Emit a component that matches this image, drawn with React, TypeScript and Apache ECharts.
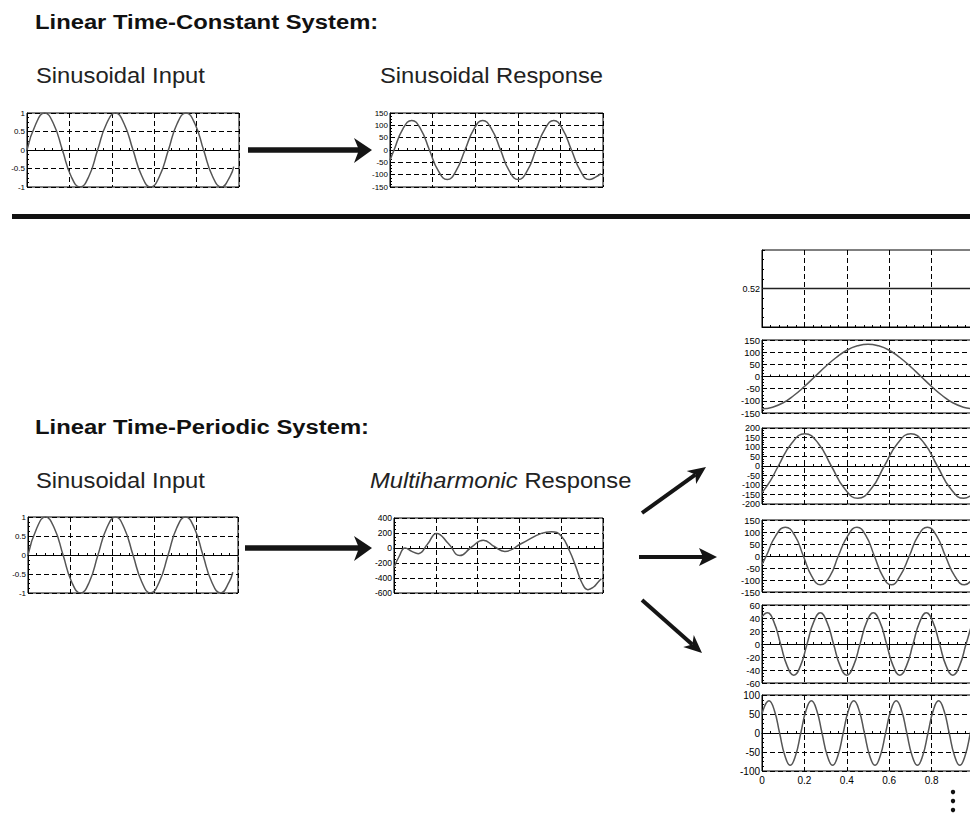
import React, { useEffect, useRef } from 'react';
import * as echarts from 'echarts';

const FONT = '"Liberation Sans", Arial, Helvetica, sans-serif';

// ---------- data ----------
const inputCurve: [number, number][] = [
  [0, 0], [0.042, 0.71], [0.083, 1], [0.125, 0.71], [0.167, 0], [0.208, -0.71], [0.25, -1], [0.292, -0.71],
  [0.333, 0], [0.375, 0.71], [0.417, 1], [0.458, 0.71], [0.5, 0], [0.542, -0.71], [0.583, -1], [0.625, -0.71],
  [0.667, 0], [0.708, 0.71], [0.75, 1], [0.792, 0.71], [0.833, 0], [0.875, -0.71], [0.917, -1], [0.958, -0.71],
  [0.975, -0.45],
];

const responseCurve: [number, number][] = [
  [0, -41], [0.019, 0], [0.06, 85], [0.102, 120], [0.144, 85], [0.185, 0], [0.227, -85], [0.269, -120],
  [0.31, -85], [0.352, 0], [0.394, 85], [0.435, 120], [0.477, 85], [0.519, 0], [0.56, -85], [0.602, -120],
  [0.644, -85], [0.685, 0], [0.727, 85], [0.769, 120], [0.81, 85], [0.852, 0], [0.894, -85], [0.935, -120],
  [0.965, -110], [0.99, -96],
];

const multiCurve: [number, number][] = [
  [0, -260], [0.025, -110], [0.053, 0], [0.085, -45], [0.116, -75], [0.16, 50], [0.204, 195], [0.26, 60],
  [0.315, -100], [0.37, 10], [0.427, 105], [0.48, 20], [0.53, -45], [0.61, 60], [0.705, 195], [0.753, 218],
  [0.8, 160], [0.84, -40], [0.87, -250], [0.9, -470], [0.928, -555], [0.955, -520], [0.975, -460], [0.992, -410],
];

const dcLevel: [number, number][] = [[0, 0.52], [1, 0.52]];

const harmonic1: [number, number][] = [
  [0, -133], [0.05, -126], [0.1, -108], [0.15, -78], [0.2, -41], [0.25, 0], [0.3, 41], [0.35, 78], [0.4, 108],
  [0.45, 126], [0.5, 133], [0.55, 126], [0.6, 108], [0.65, 78], [0.7, 41], [0.75, 0], [0.8, -41], [0.85, -78],
  [0.9, -108], [0.95, -126], [1, -133],
];

const harmonic2: [number, number][] = [
  [0, -140], [0.04, -77], [0.077, 0], [0.14, 120], [0.202, 170], [0.265, 120], [0.327, 0], [0.39, -120],
  [0.452, -170], [0.515, -120], [0.577, 0], [0.64, 120], [0.702, 170], [0.765, 120], [0.827, 0], [0.89, -120],
  [0.952, -170], [1, -140],
];

const harmonic3: [number, number][] = [
  [0, -35], [0.02, 0], [0.065, 85], [0.11, 120], [0.155, 85], [0.195, 0], [0.235, -85], [0.276, -120],
  [0.32, -85], [0.36, 0], [0.405, 85], [0.448, 120], [0.49, 85], [0.53, 0], [0.57, -85], [0.61, -120],
  [0.65, -85], [0.695, 0], [0.737, 85], [0.78, 120], [0.823, 85], [0.865, 0], [0.91, -85], [0.955, -120],
  [1, -85],
];

const harmonic4: [number, number][] = [
  [0, 42], [0.025, 48], [0.056, 34], [0.0875, 0], [0.119, -34], [0.15, -48], [0.181, -34], [0.2125, 0],
  [0.244, 34], [0.275, 48], [0.306, 34], [0.3375, 0], [0.369, -34], [0.4, -48], [0.431, -34], [0.4625, 0],
  [0.494, 34], [0.525, 48], [0.556, 34], [0.5875, 0], [0.619, -34], [0.65, -48], [0.681, -34], [0.7125, 0],
  [0.744, 34], [0.775, 48], [0.806, 34], [0.8375, 0], [0.869, -34], [0.9, -48], [0.931, -34], [0.9625, 0],
  [0.994, 34], [1, 38],
];

const harmonic5: [number, number][] = [
  [0, 50], [0.033, 85], [0.058, 60], [0.083, 0], [0.108, -60], [0.133, -85], [0.158, -60], [0.183, 0],
  [0.208, 60], [0.233, 85], [0.258, 60], [0.283, 0], [0.308, -60], [0.333, -85], [0.358, -60], [0.383, 0],
  [0.408, 60], [0.433, 85], [0.458, 60], [0.483, 0], [0.508, -60], [0.533, -85], [0.558, -60], [0.583, 0],
  [0.608, 60], [0.633, 85], [0.658, 60], [0.683, 0], [0.708, -60], [0.733, -85], [0.758, -60], [0.783, 0],
  [0.808, 60], [0.833, 85], [0.858, 60], [0.883, 0], [0.908, -60], [0.933, -85], [0.958, -60], [0.983, 0],
  [1, 43],
];

const dcTickLabels = ['0.52'];
const timeTickLabels = ['0', '0.2', '0.4', '0.6', '0.8'];

// ---------- titles ----------
const title1 = 'Linear Time-Constant System:';
const title2 = 'Linear Time-Periodic System:';
const inputLabel = 'Sinusoidal Input';
const responseLabel = 'Sinusoidal Response';
const multiLabelItalic = 'Multiharmonic';
const multiLabelRest = ' Response';

// ---------- layout ----------
type Panel = {
  box: { left: number; top: number; width: number; height: number };
  yMin: number; yMax: number; yStep: number;
  data: [number, number][];
  hSplit: boolean; xLabels: boolean; fontSize: number;
  onlyLabels?: string[];
};

const panels: Panel[] = [
  { box: { left: 27, top: 113, width: 212, height: 74 }, yMin: -1, yMax: 1, yStep: 0.5, data: inputCurve, hSplit: true, xLabels: false, fontSize: 8 },
  { box: { left: 390, top: 113, width: 213, height: 74 }, yMin: -150, yMax: 150, yStep: 50, data: responseCurve, hSplit: true, xLabels: false, fontSize: 8 },
  { box: { left: 28, top: 517, width: 210, height: 76 }, yMin: -1, yMax: 1, yStep: 0.5, data: inputCurve, hSplit: true, xLabels: false, fontSize: 8 },
  { box: { left: 394, top: 518, width: 209, height: 75 }, yMin: -600, yMax: 400, yStep: 200, data: multiCurve, hSplit: true, xLabels: false, fontSize: 8.5 },
  { box: { left: 762, top: 250, width: 212, height: 77 }, yMin: 0.5, yMax: 0.54, yStep: 0.02, data: dcLevel, hSplit: false, xLabels: false, fontSize: 9, onlyLabels: dcTickLabels },
  { box: { left: 762, top: 340, width: 212, height: 73 }, yMin: -150, yMax: 150, yStep: 50, data: harmonic1, hSplit: true, xLabels: false, fontSize: 9.5 },
  { box: { left: 762, top: 428, width: 212, height: 76 }, yMin: -200, yMax: 200, yStep: 50, data: harmonic2, hSplit: true, xLabels: false, fontSize: 9 },
  { box: { left: 762, top: 520, width: 212, height: 72 }, yMin: -150, yMax: 150, yStep: 50, data: harmonic3, hSplit: true, xLabels: false, fontSize: 9.5 },
  { box: { left: 762, top: 605, width: 212, height: 78 }, yMin: -60, yMax: 60, yStep: 20, data: harmonic4, hSplit: true, xLabels: false, fontSize: 9.5 },
  { box: { left: 762, top: 695, width: 212, height: 76 }, yMin: -100, yMax: 100, yStep: 50, data: harmonic5, hSplit: true, xLabels: true, fontSize: 10 },
];

const DASH = [5, 3];

function buildOption() {
  const grid: any[] = [];
  const xAxis: any[] = [];
  const yAxis: any[] = [];
  const series: any[] = [];
  panels.forEach((p, i) => {
    grid.push({
      ...p.box,
      show: true,
      borderColor: '#000',
      borderWidth: 1,
      backgroundColor: 'transparent',
      containLabel: false,
      outerBoundsMode: 'none',
    });
    xAxis.push({
      gridIndex: i,
      type: 'value',
      min: 0,
      max: 1,
      interval: 0.2,
      axisLine: { show: true, lineStyle: { color: '#000', width: 1 } },
      axisTick: { show: true, inside: true, length: 3, lineStyle: { color: '#000' } },
      minorTick: { show: true, splitNumber: 5, length: 2, lineStyle: { color: '#000' } },
      axisLabel: {
        show: p.xLabels,
        color: '#000',
        fontSize: p.fontSize,
        fontFamily: FONT,
        margin: 4,
        hideOverlap: false,
        formatter: (v: number) => {
          const s = String(Math.round(v * 1000) / 1000);
          return timeTickLabels.includes(s) ? s : '';
        },
      },
      splitLine: { show: true, lineStyle: { color: '#000', type: DASH, width: 1 } },
    });
    yAxis.push({
      gridIndex: i,
      type: 'value',
      min: p.yMin,
      max: p.yMax,
      interval: p.yStep,
      axisLine: { show: true, lineStyle: { color: '#000', width: 1 } },
      axisTick: { show: true, inside: true, length: 3, lineStyle: { color: '#000' } },
      minorTick: { show: true, splitNumber: 4, length: 2, lineStyle: { color: '#000' } },
      axisLabel: {
        show: true,
        color: '#000',
        fontSize: p.fontSize,
        fontFamily: FONT,
        margin: 2,
        hideOverlap: false,
        formatter: (v: number) => {
          const s = String(Math.round(v * 1000) / 1000);
          if (p.onlyLabels) return p.onlyLabels.includes(s) ? s : '';
          return s;
        },
      },
      splitLine: { show: p.hSplit, lineStyle: { color: '#000', type: DASH, width: 1 } },
    });
    series.push({
      type: 'line',
      xAxisIndex: i,
      yAxisIndex: i,
      data: p.data,
      showSymbol: false,
      smooth: 0.5,
      silent: true,
      lineStyle: { color: i === 4 ? '#222' : '#555', width: 1.5 },
    });
  });

  const arrowColor = '#151515';
  const SX = 1.08;
  const TSX = 1.19;
  const subStyle = { fontSize: 22, fontFamily: FONT, fill: '#222', verticalAlign: 'middle' };
  const titleStyle = { fontSize: 20, fontWeight: 'bold', fontFamily: FONT, fill: '#111', verticalAlign: 'middle' };
  const graphic: any[] = [
    { type: 'text', x: 35, y: 22, scaleX: TSX, style: { text: title1, ...titleStyle } },
    { type: 'text', x: 36, y: 75, scaleX: SX, style: { text: inputLabel, ...subStyle } },
    { type: 'text', x: 380, y: 75, scaleX: SX, style: { text: responseLabel, ...subStyle } },
    { type: 'text', x: 35, y: 427, scaleX: TSX, style: { text: title2, ...titleStyle } },
    { type: 'text', x: 36, y: 480, scaleX: SX, style: { text: inputLabel, ...subStyle } },
    {
      type: 'text', x: 370, y: 480, scaleX: SX,
      style: {
        text: `{i|${multiLabelItalic}}{r|${multiLabelRest}}`,
        verticalAlign: 'middle',
        rich: {
          i: { fontSize: 22, fontStyle: 'italic', fontFamily: FONT, fill: '#222' },
          r: { fontSize: 22, fontFamily: FONT, fill: '#222' },
        },
      },
    },
    // separator
    { type: 'rect', shape: { x: 12, y: 214, width: 960, height: 5 }, style: { fill: '#111' } },
    // top arrow
    { type: 'line', shape: { x1: 248, y1: 150, x2: 360, y2: 150 }, style: { stroke: arrowColor, lineWidth: 5.5 } },
    { type: 'polygon', shape: { points: [[372, 150], [354, 138], [359, 150], [354, 163]] }, style: { fill: arrowColor } },
    // bottom arrow
    { type: 'line', shape: { x1: 245, y1: 548, x2: 360, y2: 548 }, style: { stroke: arrowColor, lineWidth: 5.5 } },
    { type: 'polygon', shape: { points: [[372, 548], [354, 536], [359, 548], [354, 561]] }, style: { fill: arrowColor } },
    // fan arrows
    { type: 'line', shape: { x1: 642, y1: 513, x2: 695.4, y2: 474.6 }, style: { stroke: arrowColor, lineWidth: 4 } },
    { type: 'polygon', shape: { points: [[706, 467], [696.1, 484], [695.4, 474.6], [686.7, 471]] }, style: { fill: arrowColor } },
    { type: 'line', shape: { x1: 639, y1: 557, x2: 704, y2: 557 }, style: { stroke: arrowColor, lineWidth: 4 } },
    { type: 'polygon', shape: { points: [[717, 557], [699, 548], [703, 557], [699, 566]] }, style: { fill: arrowColor } },
    { type: 'line', shape: { x1: 642, y1: 600, x2: 692.3, y2: 644.4 }, style: { stroke: arrowColor, lineWidth: 4 } },
    { type: 'polygon', shape: { points: [[702, 653], [683.2, 647.1], [692.3, 644.4], [693.8, 635.1]] }, style: { fill: arrowColor } },
    // continuation dots
    { type: 'circle', shape: { cx: 953, cy: 792, r: 2.2 }, style: { fill: '#111' } },
    { type: 'circle', shape: { cx: 953, cy: 801, r: 2.2 }, style: { fill: '#111' } },
    { type: 'circle', shape: { cx: 953, cy: 810, r: 2.2 }, style: { fill: '#111' } },
  ];

  return {
    animation: false,
    backgroundColor: '#fff',
    grid,
    xAxis,
    yAxis,
    series,
    graphic,
  };
}

export default function App() {
  const ref = useRef<HTMLDivElement>(null);
  useEffect(() => {
    if (!ref.current) return;
    const chart = echarts.init(ref.current, null, { renderer: 'svg' });
    chart.setOption(buildOption() as any);
    return () => chart.dispose();
  }, []);
  return (
    <div
      ref={ref}
      style={{ position: 'absolute', left: 0, top: 0, width: 970, height: 833, background: '#fff', overflow: 'hidden' }}
    />
  );
}
